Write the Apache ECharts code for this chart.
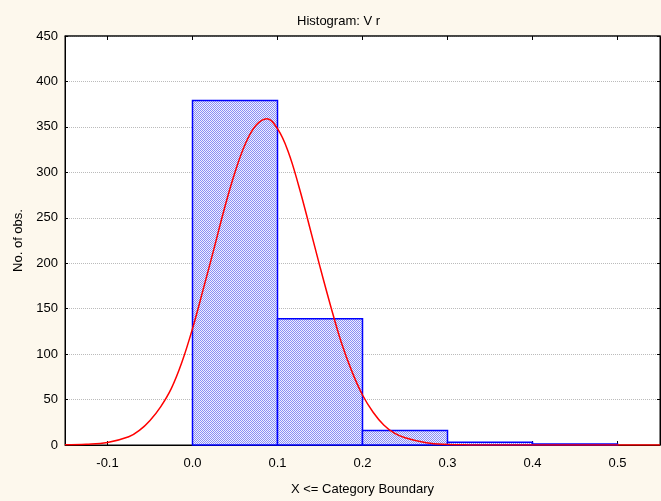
<!DOCTYPE html>
<html>
<head>
<meta charset="utf-8">
<script src="https://cdn.jsdelivr.net/npm/echarts@6/dist/echarts.min.js"></script>
<style>
html,body{margin:0;padding:0;background:#fdf8ed;}
#main{width:661px;height:501px;}
</style>
</head>
<body>
<div id="main"></div>
<script>
// histogram bins (category boundaries) and counts
var binStart = [0.0, 0.1, 0.2, 0.3, 0.4];
var binEnd   = [0.1, 0.2, 0.3, 0.4, 0.5];
var counts   = [379, 139, 16, 3, 1];

// expected normal curve
var curveX = [-0.15, -0.125, -0.1, -0.075, -0.0625, -0.05, -0.0375, -0.025, -0.0125, 0.0, 0.0125, 0.025, 0.0375, 0.05, 0.0625, 0.075, 0.0875, 0.1, 0.1125, 0.125, 0.1375, 0.15, 0.1625, 0.175, 0.1875, 0.2, 0.2125, 0.225, 0.2375, 0.25, 0.275, 0.3, 0.325, 0.35, 0.4, 0.45, 0.5, 0.55];
var curveY = [0.2, 0.8, 2.8, 9, 16, 27, 42, 62, 91, 128, 171, 215, 260, 300, 332, 352, 359, 348, 323, 285, 241, 196, 153, 113, 81, 55, 36, 22, 13, 8, 2.5, 0.6, 0.1, 0, 0, 0, 0, 0];

var tickVals = [-0.1, 0.0, 0.1, 0.2, 0.3, 0.4, 0.5];

var chart = echarts.init(document.getElementById('main'));

// dithered blue fill like the original hatch
var pat = document.createElement('canvas');
pat.width = 2; pat.height = 2;
var ctx = pat.getContext('2d');
ctx.fillStyle = '#eef0ff'; ctx.fillRect(0,0,2,2);
ctx.fillStyle = '#8a8ef4'; ctx.fillRect(0,0,1,1); ctx.fillRect(1,1,1,1);

var bars = [];
for (var i = 0; i < counts.length; i++) bars.push([binStart[i], binEnd[i], counts[i]]);
var line = [];
for (var j = 0; j < curveX.length; j++) line.push([curveX[j], curveY[j]]);

var font = 'Liberation Sans, Arial, sans-serif';
var txt = {color:'#000', fontFamily:font, fontSize:13};

var option = {
	backgroundColor: '#fdf8ed',
	animation: false,
	title: {
		text: 'Histogram: V r',
		left: 292, top: 10,
		textStyle: {color:'#000', fontFamily:font, fontSize:13, fontWeight:'normal'}
	},
	grid: {left:65, top:36, width:595, height:409, show:true, backgroundColor:'#fff', borderColor:'#000', borderWidth:1},
	xAxis: [{
		type:'value', min:-0.15, max:0.55,
		name:'X <= Category Boundary', nameLocation:'middle', nameGap:38,
		nameTextStyle: txt,
		axisLine:{show:true, onZero:false, lineStyle:{color:'#000'}},
		axisTick:{show:true, inside:true, length:4, customValues:tickVals, lineStyle:{color:'#000'}},
		axisLabel:{customValues:tickVals, margin:12, color:'#000', fontFamily:font, fontSize:13,
			formatter:function(v){return v.toFixed(1);}},
		splitLine:{show:false}
	},{
		type:'value', position:'top', min:-0.15, max:0.55,
		axisLine:{show:true, onZero:false, lineStyle:{color:'#333', width:1.5}},
		axisTick:{show:true, inside:true, length:4, customValues:tickVals, lineStyle:{color:'#000'}},
		axisLabel:{show:false}, splitLine:{show:false}
	}],
	yAxis: [{
		type:'value', min:0, max:450, interval:50,
		name:'No. of obs.', nameLocation:'middle', nameGap:39,
		nameTextStyle: txt,
		axisLine:{show:true, onZero:false, lineStyle:{color:'#000'}},
		axisTick:{show:true, inside:true, length:3, lineStyle:{color:'#000'}},
		axisLabel:{margin:7, color:'#000', fontFamily:font, fontSize:13},
		splitLine:{show:true, lineStyle:{color:'#bbb', type:'dotted', width:1}}
	},{
		type:'value', position:'right', min:0, max:450, interval:50,
		axisLine:{show:true, onZero:false, lineStyle:{color:'#000'}},
		axisTick:{show:true, inside:true, length:3, lineStyle:{color:'#000'}},
		axisLabel:{show:false}, splitLine:{show:false}
	}],
	series: [{
		type:'custom',
		data: bars,
		encode:{x:[0,1], y:2},
		renderItem: function(params, api){
			var p0 = api.coord([api.value(0), api.value(2)]);
			var p1 = api.coord([api.value(1), 0]);
			return {
				type:'rect',
				shape:{x:p0[0], y:p0[1], width:p1[0]-p0[0], height:p1[1]-p0[1]},
				style:{fill:{image:pat, repeat:'repeat'}, stroke:'#0000ff', lineWidth:1.5}
			};
		}
	},{
		type:'line',
		data: line,
		smooth: 0.4,
		showSymbol: false,
		lineStyle:{color:'#ff0000', width:1.5},
		z: 5
	}]
};
chart.setOption(option);
</script>
</body>
</html>
